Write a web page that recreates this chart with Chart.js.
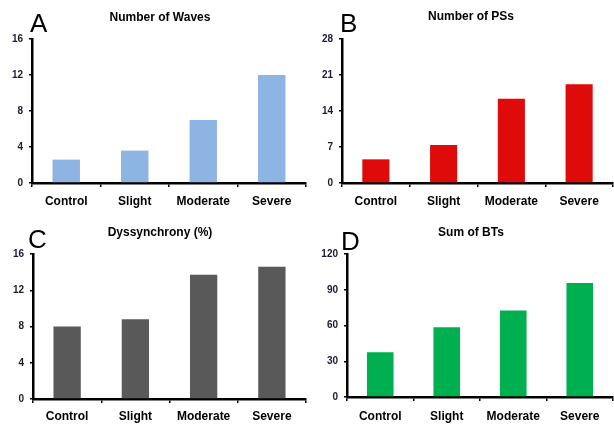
<!DOCTYPE html>
<html>
<head>
<meta charset="utf-8">
<script src="https://cdn.jsdelivr.net/npm/chart.js@4/dist/chart.umd.min.js"></script>
<style>
  body { margin: 0; background: #fff; font-family: "Liberation Sans", Arial, sans-serif; }
  #wrap { position: relative; width: 614px; height: 425px; overflow: hidden; }
  .panel { position: absolute; }
  .letter { position: absolute; font-size: 26px; line-height: 26px; color: #000; }
  .title { position: absolute; font-size: 12px; font-weight: bold; color: #000; transform: translateX(-50%); white-space: nowrap; line-height: 12px; }
</style>
</head>
<body>
<div id="wrap">
  <div class="panel" style="left:0;top:0;width:307px;height:212px"><canvas id="chartA"></canvas></div>
  <div class="panel" style="left:307px;top:0;width:307px;height:212px"><canvas id="chartB"></canvas></div>
  <div class="panel" style="left:0;top:212px;width:307px;height:213px"><canvas id="chartC"></canvas></div>
  <div class="panel" style="left:307px;top:212px;width:307px;height:213px"><canvas id="chartD"></canvas></div>

  <div class="letter" style="left:30px;top:10px">A</div>
  <div class="letter" style="left:340px;top:10px">B</div>
  <div class="letter" style="left:28px;top:226px">C</div>
  <div class="letter" style="left:341px;top:228px">D</div>

  <div class="title" style="left:160px;top:11px">Number of Waves</div>
  <div class="title" style="left:471px;top:10px">Number of PSs</div>
  <div class="title" style="left:160px;top:226px">Dyssynchrony (%)</div>
  <div class="title" style="left:471px;top:226px">Sum of BTs</div>
</div>
<script>
// Data
const categories = ['Control', 'Slight', 'Moderate', 'Severe'];
const wavesValues = [2.6, 3.6, 7.0, 12.0];
const psValues = [4.6, 7.4, 16.4, 19.2];
const dyssyncValues = [8.0, 8.8, 13.7, 14.6];
const btValues = [37.5, 58.6, 72.5, 95.6];

const wavesTicks = { max: 16, step: 4 };
const psTicks = { max: 28, step: 7 };
const dyssyncTicks = { max: 16, step: 4 };
const btTicks = { max: 120, step: 30 };

// build one small bar chart
function makeChart(id, values, ticks, color, yWidth, xHeight, top, xPad) {
  new Chart(document.getElementById(id), {
    type: 'bar',
    data: {
      labels: categories,
      datasets: [{
        data: values,
        backgroundColor: color,
        borderWidth: 0,
        categoryPercentage: 1.0,
        barPercentage: 0.4
      }]
    },
    options: {
      responsive: true,
      maintainAspectRatio: false,
      animation: false,
      layout: { padding: { top: top, left: 0, right: 1, bottom: 0 } },
      plugins: { legend: { display: false }, tooltip: { enabled: false } },
      scales: {
        x: {
          afterFit: (s) => { s.height = xHeight; },
          grid: { display: true, drawOnChartArea: false, drawTicks: true, tickLength: 4, color: '#000', lineWidth: 1.5, offset: true },
          border: { display: true, color: '#000', width: 2.5 },
          ticks: { color: '#000', padding: xPad, font: { family: '"Liberation Sans", Arial', size: 12, weight: 'bold' }, maxRotation: 0 }
        },
        y: {
          min: 0,
          max: ticks.max,
          afterFit: (s) => { s.width = yWidth; },
          grid: { display: true, drawOnChartArea: false, drawTicks: true, tickLength: 3, color: '#000', lineWidth: 1.5 },
          border: { display: true, color: '#000', width: 2.5 },
          ticks: { stepSize: ticks.step, color: '#1a1a33', padding: 6, font: { family: '"Liberation Sans", Arial', size: 10, weight: 'bold' } }
        }
      }
    }
  });
}

makeChart('chartA', wavesValues, wavesTicks, '#8DB4E2', 32, 29, 39, 7);
makeChart('chartB', psValues, psTicks, '#DF0A0A', 35, 29, 39, 7);
makeChart('chartC', dyssyncValues, dyssyncTicks, '#595959', 33, 26, 42, 6);
makeChart('chartD', btValues, btTicks, '#00B050', 40, 28, 42, 8);
</script>
</body>
</html>
